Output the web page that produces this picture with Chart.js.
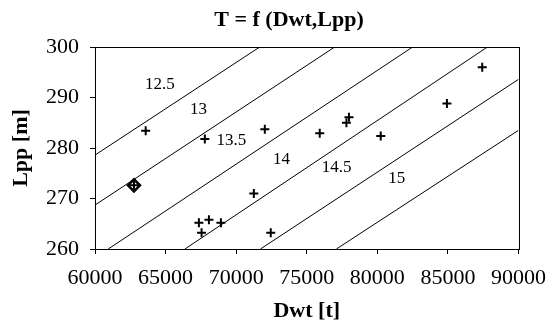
<!DOCTYPE html>
<html>
<head>
<meta charset="utf-8">
<script src="https://cdn.jsdelivr.net/npm/chart.js@4.4.1/dist/chart.umd.min.js"></script>
<style>
  html, body { margin: 0; padding: 0; background: #fff; }
  #wrap { width: 557px; height: 324px; position: relative; }
</style>
</head>
<body>
<div id="wrap"><canvas id="chart" width="557" height="324"></canvas></div>
<script>
// --- data ---
const chartTitle = 'T = f (Dwt,Lpp)';

// draught lines T = const (two ends each, in Dwt / Lpp units)
const levels = ['12.5', '13', '13.5', '14', '14.5', '15'];
const lineStartDwt = [60000, 60000, 60940, 66370, 71720, 77100];
const lineStartLpp = [278.6, 268.7, 260, 260, 260, 260];
const lineEndDwt = [71670, 76980, 82500, 87800, 90000, 90000];
const lineEndLpp = [300, 300, 300, 300, 293.6, 283.5];
const labelDwt = [64600, 67340, 69660, 73210, 77120, 81370];
const labelLpp = [292.5, 287.7, 281.4, 277.8, 276.2, 273.9];

// ships
const shipDwt = [63590, 67780, 72030, 75920, 71250, 67360, 68070, 68920, 67550, 72450, 77990, 77810, 80240, 84930, 87430, 62760];
const shipLpp = [283.4, 281.8, 283.7, 282.9, 271.0, 265.2, 265.8, 265.2, 263.2, 263.2, 286.1, 285.0, 282.4, 288.8, 296.0, 272.6];

// highlighted ship
const markDwt = [62760];
const markLpp = [272.6];

const xTicks = [60000, 65000, 70000, 75000, 80000, 85000, 90000];
const yTicks = [260, 270, 280, 290, 300];

const serif = '"Liberation Serif", "Times New Roman", serif';

// lines as datasets
const lineSets = levels.map((lv, i) => ({
    type: 'line',
    label: 'T ' + lv,
    data: [
        { x: lineStartDwt[i], y: lineStartLpp[i] },
        { x: lineEndDwt[i], y: lineEndLpp[i] }
    ],
    borderColor: '#000',
    borderWidth: 1,
    pointRadius: 0,
    fill: false,
    order: 3
}));

// frame, title and line labels
const extras = {
    id: 'extras',
    afterDraw(chart) {
        const c = chart.ctx;
        const a = chart.chartArea;
        const xs = chart.scales.x;
        const ys = chart.scales.y;
        c.save();
        c.strokeStyle = '#000';
        c.lineWidth = 1;
        c.strokeRect(Math.round(a.left) + 0.5, Math.round(a.top) + 0.5,
            Math.round(a.right - a.left), Math.round(a.bottom - a.top));

        c.fillStyle = '#000';
        c.textAlign = 'center';
        c.textBaseline = 'middle';
        c.font = '17px ' + serif;
        levels.forEach((lv, i) => {
            c.fillText(lv, xs.getPixelForValue(labelDwt[i]), ys.getPixelForValue(labelLpp[i]));
        });

        c.font = 'bold 22px ' + serif;
        c.fillText(chartTitle, 289, 20);
        c.restore();
    }
};

const ctx = document.getElementById('chart').getContext('2d');
new Chart(ctx, {
    type: 'scatter',
    data: {
        datasets: [
            ...lineSets,
            {
                label: 'mark',
                data: markDwt.map((d, i) => ({ x: d, y: markLpp[i] })),
                pointStyle: 'rectRot',
                pointRadius: 6,
                borderWidth: 2.5,
                borderColor: '#000',
                backgroundColor: '#fff',
                order: 2
            },
            {
                label: 'ships',
                data: shipDwt.map((d, i) => ({ x: d, y: shipLpp[i] })),
                pointStyle: 'cross',
                pointRadius: 4.5,
                borderWidth: 2,
                borderColor: '#000',
                backgroundColor: '#000',
                order: 1
            }
        ]
    },
    options: {
        responsive: false,
        animation: false,
        layout: { padding: { top: 47, right: 38, left: 0, bottom: 0 } },
        plugins: {
            legend: { display: false },
            title: { display: false },
            tooltip: { enabled: false }
        },
        scales: {
            x: {
                type: 'linear',
                min: 60000,
                max: 90000,
                afterBuildTicks: s => { s.ticks = xTicks.map(v => ({ value: v })); },
                afterFit: s => { s.height = 75; },
                ticks: {
                    callback: v => String(v),
                    color: '#000',
                    font: { family: serif, size: 22 },
                    padding: 11,
                    maxRotation: 0,
                    autoSkip: false
                },
                grid: { drawOnChartArea: false, drawTicks: true, tickLength: 5, color: '#000' },
                border: { display: true, color: '#000', width: 1 },
                title: {
                    display: true,
                    text: 'Dwt [t]',
                    color: '#000',
                    font: { family: serif, size: 22, weight: 'bold', lineHeight: 1 },
                    padding: { top: 0, bottom: 2 }
                }
            },
            y: {
                type: 'linear',
                min: 260,
                max: 300,
                afterBuildTicks: s => { s.ticks = yTicks.map(v => ({ value: v })); },
                afterFit: s => { s.width = 95; },
                ticks: {
                    callback: v => String(v),
                    color: '#000',
                    font: { family: serif, size: 22 },
                    padding: 11
                },
                grid: { drawOnChartArea: false, drawTicks: true, tickLength: 5, color: '#000' },
                border: { display: true, color: '#000', width: 1 },
                title: {
                    display: true,
                    text: 'Lpp [m]',
                    color: '#000',
                    font: { family: serif, size: 22, weight: 'bold' },
                    padding: { top: 8, bottom: 0 }
                }
            }
        }
    },
    plugins: [extras]
});
</script>
</body>
</html>
